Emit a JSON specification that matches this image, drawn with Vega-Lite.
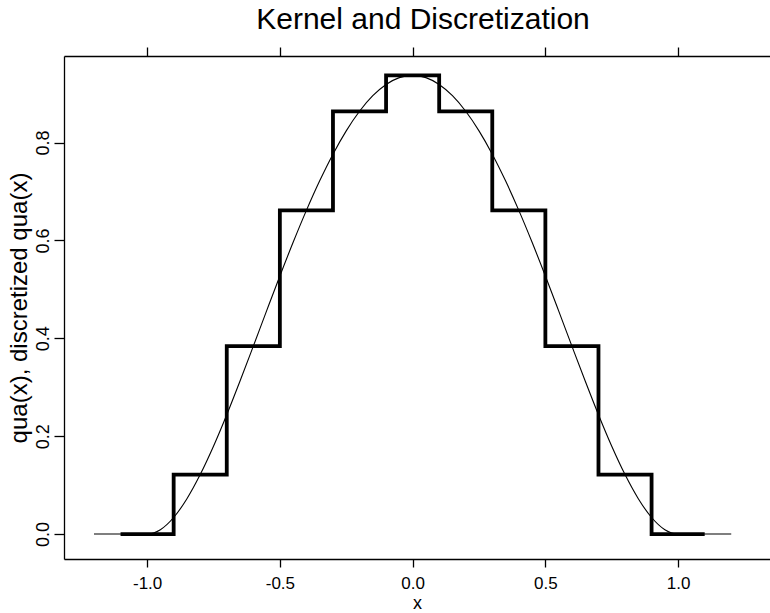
{
  "$schema": "https://vega.github.io/schema/vega-lite/v6.json",
  "width": 706,
  "height": 503,
  "autosize": "none",
  "padding": {"left": 64, "top": 56, "right": 0, "bottom": 54},
  "background": "white",
  "config": {
    "view": {"stroke": null},
    "font": "Liberation Sans",
    "axis": {"grid": false, "domainColor": "black", "tickColor": "black", "labelColor": "black", "titleColor": "black", "domainWidth": 1.3, "tickWidth": 1.3, "labelFont": "Liberation Sans", "titleFont": "Liberation Sans", "titleFontWeight": "normal"}
  },
  "title": {"text": "Kernel and Discretization", "fontSize": 30, "font": "Liberation Sans", "fontWeight": "normal", "color": "black", "anchor": "middle", "offset": 11, "dx": 6},
  "datasets": {
    "kernel": [
      {"x": -1.2, "y": 0}, {"x": -1.1, "y": 0}, {"x": -1.0, "y": 0}, {"x": -0.95, "y": 0.00891}, {"x": -0.9, "y": 0.03384},
      {"x": -0.85, "y": 0.07219}, {"x": -0.8, "y": 0.1215}, {"x": -0.75, "y": 0.17944}, {"x": -0.7, "y": 0.24384},
      {"x": -0.65, "y": 0.31266}, {"x": -0.6, "y": 0.384}, {"x": -0.55, "y": 0.4561}, {"x": -0.5, "y": 0.52734},
      {"x": -0.45, "y": 0.59626}, {"x": -0.4, "y": 0.6615}, {"x": -0.35, "y": 0.72188}, {"x": -0.3, "y": 0.77634},
      {"x": -0.25, "y": 0.82397}, {"x": -0.2, "y": 0.864}, {"x": -0.15, "y": 0.89579}, {"x": -0.1, "y": 0.91884},
      {"x": -0.05, "y": 0.93282}, {"x": 0.0, "y": 0.9375}, {"x": 0.05, "y": 0.93282}, {"x": 0.1, "y": 0.91884},
      {"x": 0.15, "y": 0.89579}, {"x": 0.2, "y": 0.864}, {"x": 0.25, "y": 0.82397}, {"x": 0.3, "y": 0.77634},
      {"x": 0.35, "y": 0.72188}, {"x": 0.4, "y": 0.6615}, {"x": 0.45, "y": 0.59626}, {"x": 0.5, "y": 0.52734},
      {"x": 0.55, "y": 0.4561}, {"x": 0.6, "y": 0.384}, {"x": 0.65, "y": 0.31266}, {"x": 0.7, "y": 0.24384},
      {"x": 0.75, "y": 0.17944}, {"x": 0.8, "y": 0.1215}, {"x": 0.85, "y": 0.07219}, {"x": 0.9, "y": 0.03384},
      {"x": 0.95, "y": 0.00891}, {"x": 1.0, "y": 0}, {"x": 1.1, "y": 0}, {"x": 1.2, "y": 0}
    ],
    "discrete": [
      {"x": -1.1, "y": 0}, {"x": -0.9, "y": 0.1215}, {"x": -0.7, "y": 0.384}, {"x": -0.5, "y": 0.6615},
      {"x": -0.3, "y": 0.864}, {"x": -0.1, "y": 0.9375}, {"x": 0.1, "y": 0.864}, {"x": 0.3, "y": 0.6615},
      {"x": 0.5, "y": 0.384}, {"x": 0.7, "y": 0.1215}, {"x": 0.9, "y": 0}, {"x": 1.1, "y": 0}
    ]
  },
  "resolve": {"axis": {"x": "independent"}},
  "layer": [
    {
      "data": {"name": "kernel"},
      "mark": {"type": "line", "color": "black", "strokeWidth": 1.1, "interpolate": "monotone"},
      "encoding": {
        "x": {"field": "x", "type": "quantitative",
          "scale": {"domain": [-1.313, 1.346], "nice": false, "zero": false},
          "axis": {"orient": "bottom", "values": [-1, -0.5, 0, 0.5, 1], "labelExpr": "datum.value < 0 ? '-' + format(-datum.value, '.1f') : format(datum.value, '.1f')", "title": "x", "tickSize": 8, "labelFontSize": 17, "labelPadding": 8, "titleFontSize": 18, "titlePadding": 3}},
        "y": {"field": "y", "type": "quantitative",
          "scale": {"domain": [-0.051, 0.977], "nice": false, "zero": false},
          "axis": {"values": [0, 0.2, 0.4, 0.6, 0.8], "format": ".1f", "title": "qua(x), discretized qua(x)", "tickSize": 10, "labelFontSize": 18, "labelAngle": -90, "labelAlign": "center", "labelBaseline": "bottom", "labelPadding": 2, "titleFontSize": 24, "titlePadding": 3}}
      }
    },
    {
      "data": {"name": "discrete"},
      "mark": {"type": "line", "color": "black", "strokeWidth": 3.8, "interpolate": "step-after", "strokeJoin": "miter"},
      "encoding": {
        "x": {"field": "x", "type": "quantitative",
          "axis": {"orient": "top", "values": [-1, -0.5, 0, 0.5, 1], "labels": false, "title": null, "tickSize": 9}},
        "y": {"field": "y", "type": "quantitative"}
      }
    }
  ]
}
